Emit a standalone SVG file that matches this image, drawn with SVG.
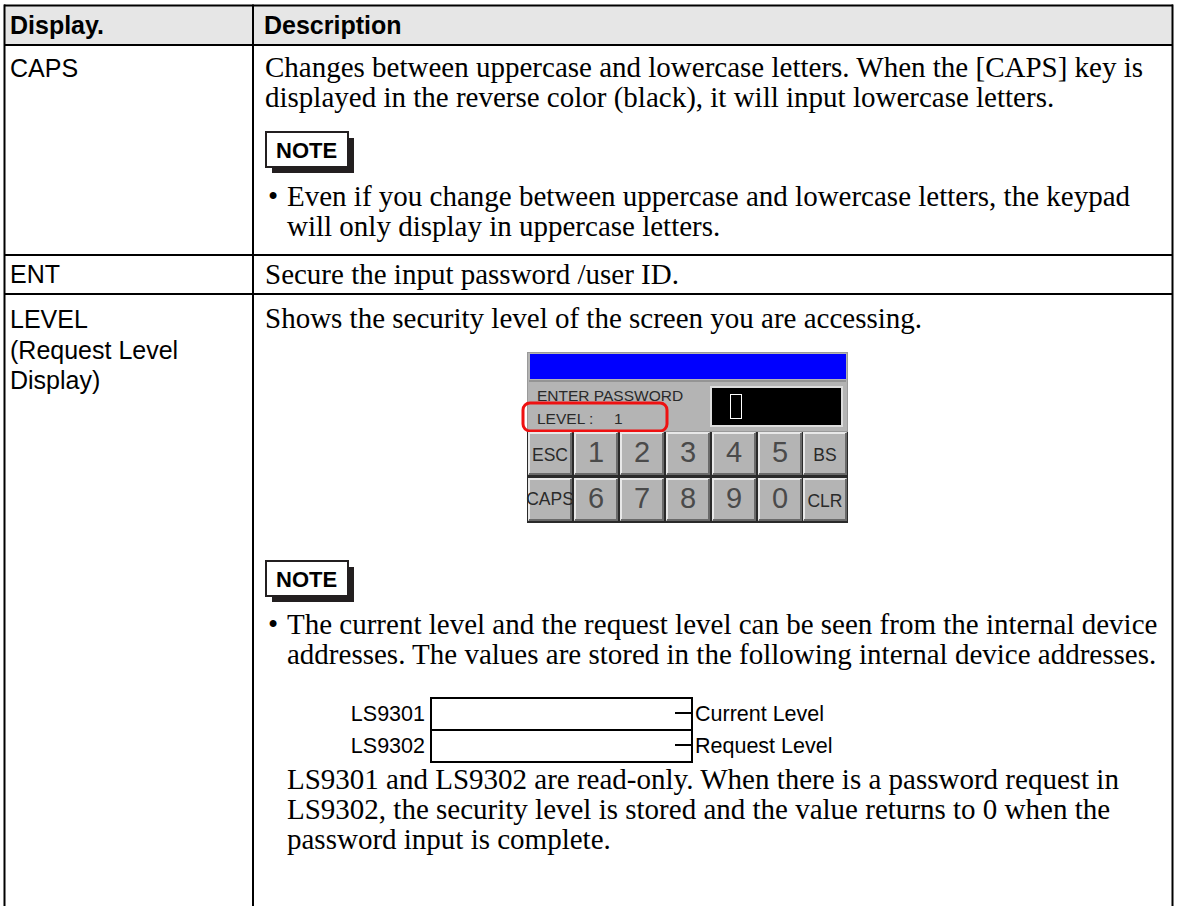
<svg xmlns="http://www.w3.org/2000/svg" width="1177" height="906" viewBox="0 0 1177 906">
  <style>
    .rule { stroke: #000; stroke-width: 2; fill: none; }
    .hdr { font-family: "Liberation Sans", Arial, sans-serif; font-weight: bold; font-size: 25px; fill: #000; }
    .lbl { font-family: "Liberation Sans", Arial, sans-serif; font-size: 25px; fill: #000; }
    .body { font-family: "Liberation Serif", "Times New Roman", serif; font-size: 29px; fill: #000; }
    .note { font-family: "Liberation Sans", Arial, sans-serif; font-weight: bold; font-size: 22px; fill: #000; }
    .small { font-family: "Liberation Sans", Arial, sans-serif; font-size: 21.5px; fill: #000; }
    .key { fill: #b4b4b4; stroke: none; }
    .keyhi { stroke: #e8e8e8; stroke-width: 2; fill: none; }
    .keylo { stroke: #6a6a6a; stroke-width: 2; fill: none; }
    .kd { font-family: "Liberation Sans Narrow", "Liberation Sans", sans-serif; font-size: 29px; fill: #4a4a4a; text-anchor: middle; }
    .kt { font-family: "Liberation Sans", Arial, sans-serif; font-size: 17.5px; fill: #2a2a2a; text-anchor: middle; }
    .kp { font-family: "Liberation Sans", Arial, sans-serif; font-size: 15.5px; fill: #2a2a2a; }
  </style>
  <defs>
    <!-- NOTE tag with drop shadow -->
    <g id="noteTag">
      <rect x="6" y="6" width="82" height="35" fill="#231f20"/>
      <rect x="0" y="0" width="82" height="35" fill="#fff" stroke="#231f20" stroke-width="2"/>
      <text x="10" y="26" class="note">NOTE</text>
    </g>
    <!-- keypad key: bevelled grey button -->
    <g id="keyBtn">
      <rect x="0" y="0" width="44" height="43" class="key"/>
      <polyline points="1,42 1,1 43,1" class="keyhi"/>
      <polyline points="1,42 43,42 43,1" class="keylo"/>
    </g>
  </defs>

  <!-- table background and header -->
  <rect x="0" y="0" width="1177" height="906" fill="#fff"/>
  <rect x="4" y="5" width="1169" height="40" fill="#e6e6e6"/>

  <!-- table rules -->
  <g id="table-rules">
    <line x1="4" y1="5.5" x2="1173" y2="5.5" class="rule"/>
    <line x1="4" y1="45" x2="1173" y2="45" class="rule"/>
    <line x1="4" y1="255" x2="1173" y2="255" class="rule"/>
    <line x1="4" y1="294" x2="1173" y2="294" class="rule"/>
    <line x1="4.5" y1="4.5" x2="4.5" y2="906" class="rule"/>
    <line x1="253" y1="4.5" x2="253" y2="906" class="rule"/>
    <line x1="1172.5" y1="4.5" x2="1172.5" y2="906" class="rule"/>
  </g>

  <!-- header -->
  <g id="header">
    <text x="10" y="34" class="hdr">Display.</text>
    <text x="264" y="34" class="hdr">Description</text>
  </g>

  <!-- CAPS row -->
  <g id="row-caps">
    <text x="10" y="77" class="lbl">CAPS</text>
    <text x="265" y="77" class="body">Changes between uppercase and lowercase letters. When the [CAPS] key is</text>
    <text x="265" y="107" class="body">displayed in the reverse color (black), it will input lowercase letters.</text>
    <use href="#noteTag" x="266" y="132"/>
    <text x="268" y="206" class="body">•</text>
    <text x="287" y="206" class="body">Even if you change between uppercase and lowercase letters, the keypad</text>
    <text x="287" y="236" class="body">will only display in uppercase letters.</text>
  </g>

  <!-- ENT row -->
  <g id="row-ent">
    <text x="10" y="283" class="lbl">ENT</text>
    <text x="265" y="284" class="body">Secure the input password /user ID.</text>
  </g>

  <!-- LEVEL row -->
  <g id="row-level">
    <text x="10" y="328" class="lbl">LEVEL</text>
    <text x="10" y="359" class="lbl">(Request Level</text>
    <text x="10" y="389" class="lbl">Display)</text>
    <text x="265" y="328" class="body">Shows the security level of the screen you are accessing.</text>
  </g>

  <!-- password keypad -->
  <g id="keypad">
    <rect x="527" y="430" width="321" height="93" fill="#2a2a2a"/>
    <rect x="527.5" y="352.5" width="320" height="79" fill="#b4b4b4" stroke="#9a9a9a" stroke-width="1"/>
    <rect x="530" y="354" width="316" height="25" fill="#0000ff"/>
    <line x1="529" y1="381" x2="846" y2="381" stroke="#8a8a8a" stroke-width="1.5"/>
    <text x="537" y="401" class="kp">ENTER PASSWORD</text>
    <text x="537" y="424" class="kp">LEVEL :</text>
    <text x="614" y="424" class="kp" font-size="12">1</text>
    <rect x="710" y="386" width="133" height="41" fill="#dcdcdc"/>
    <rect x="712" y="388" width="129" height="37" fill="#000"/>
    <rect x="730.5" y="394.5" width="11" height="24" fill="none" stroke="#fff" stroke-width="1"/>
    <rect x="523" y="403" width="144" height="28" rx="7" fill="none" stroke="#ee1111" stroke-width="3"/>

    <use href="#keyBtn" x="528" y="432"/>
    <use href="#keyBtn" x="574" y="432"/>
    <use href="#keyBtn" x="620" y="432"/>
    <use href="#keyBtn" x="666" y="432"/>
    <use href="#keyBtn" x="712" y="432"/>
    <use href="#keyBtn" x="758" y="432"/>
    <use href="#keyBtn" x="803" y="432"/>
    <use href="#keyBtn" x="528" y="478"/>
    <use href="#keyBtn" x="574" y="478"/>
    <use href="#keyBtn" x="620" y="478"/>
    <use href="#keyBtn" x="666" y="478"/>
    <use href="#keyBtn" x="712" y="478"/>
    <use href="#keyBtn" x="758" y="478"/>
    <use href="#keyBtn" x="803" y="478"/>

    <text x="550" y="461" class="kt">ESC</text>
    <text x="596" y="462" class="kd">1</text>
    <text x="642" y="462" class="kd">2</text>
    <text x="688" y="462" class="kd">3</text>
    <text x="734" y="462" class="kd">4</text>
    <text x="780" y="462" class="kd">5</text>
    <text x="825" y="461" class="kt">BS</text>
    <text x="550" y="505" class="kt" font-size="12.5">CAPS</text>
    <text x="596" y="508" class="kd">6</text>
    <text x="642" y="508" class="kd">7</text>
    <text x="688" y="508" class="kd">8</text>
    <text x="734" y="508" class="kd">9</text>
    <text x="780" y="508" class="kd">0</text>
    <text x="825" y="507" class="kt">CLR</text>
  </g>

  <!-- note on level addresses -->
  <g id="level-note">
    <use href="#noteTag" x="266" y="561"/>
    <text x="268" y="634" class="body">•</text>
    <text x="287" y="634" class="body">The current level and the request level can be seen from the internal device</text>
    <text x="287" y="664" class="body">addresses. The values are stored in the following internal device addresses.</text>
  </g>

  <!-- LS9301 / LS9302 word layout -->
  <g id="ls-words">
    <rect x="431" y="698" width="261" height="64" class="rule"/>
    <line x1="431" y1="730" x2="692" y2="730" class="rule"/>
    <line x1="675" y1="713" x2="692" y2="713" class="rule"/>
    <line x1="675" y1="745" x2="692" y2="745" class="rule"/>
    <text x="425" y="721" class="small" text-anchor="end">LS9301</text>
    <text x="425" y="753" class="small" text-anchor="end">LS9302</text>
    <text x="695" y="721" class="small">Current Level</text>
    <text x="695" y="753" class="small">Request Level</text>
  </g>

  <g id="level-para">
    <text x="287" y="789" class="body">LS9301 and LS9302 are read-only. When there is a password request in</text>
    <text x="287" y="819" class="body">LS9302, the security level is stored and the value returns to 0 when the</text>
    <text x="287" y="849" class="body">password input is complete.</text>
  </g>
</svg>
